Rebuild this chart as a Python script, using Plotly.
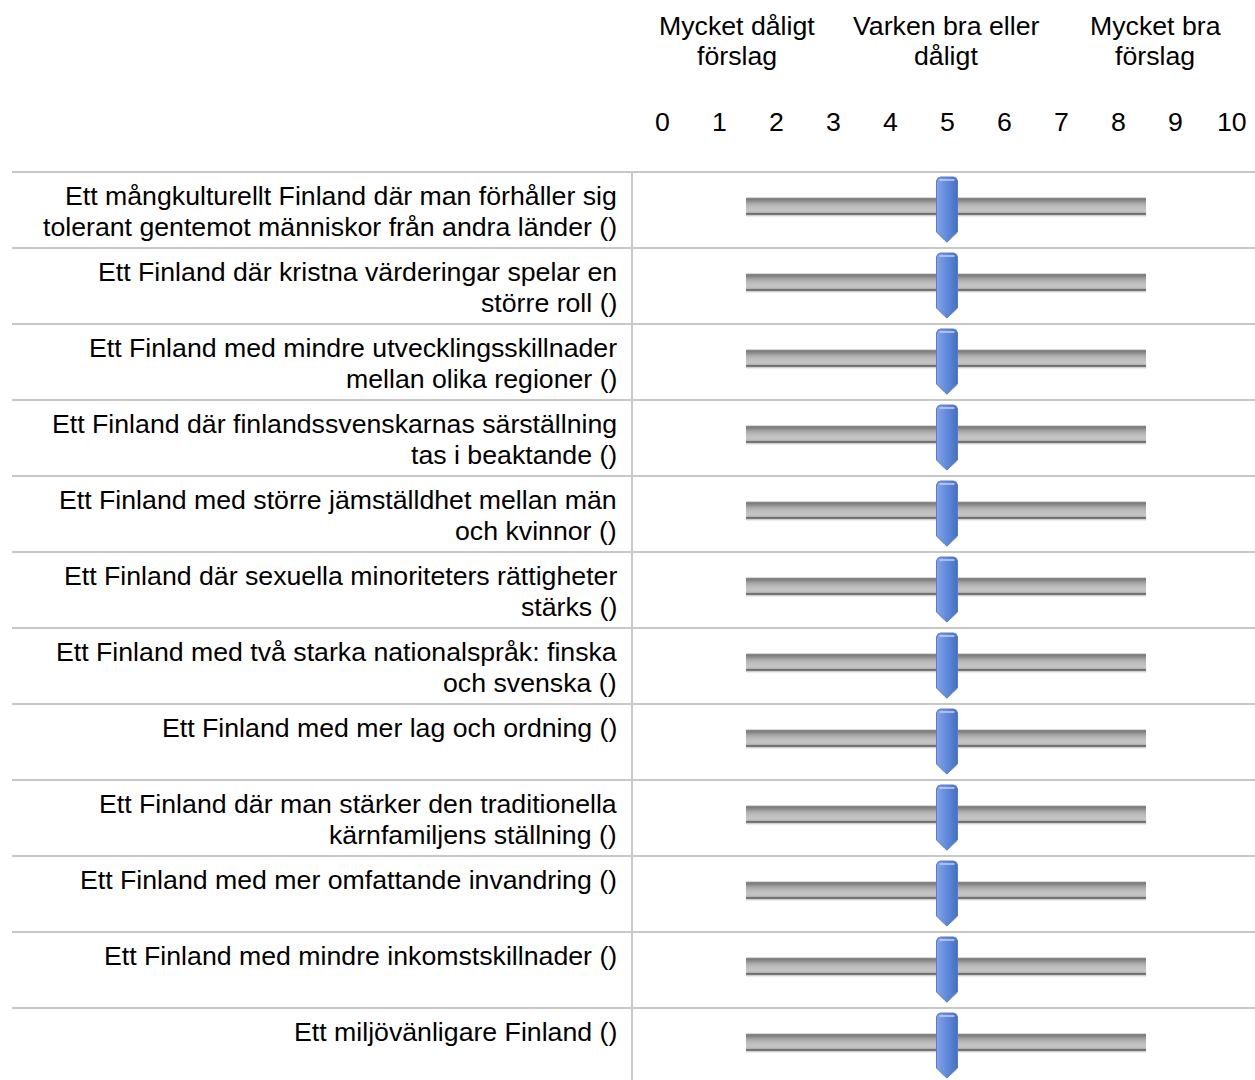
import plotly.graph_objects as go

# ---------------- data ----------------
statements = [
    "Ett mångkulturellt Finland där man förhåller sig|tolerant gentemot människor från andra länder ()",
    "Ett Finland där kristna värderingar spelar en|större roll ()",
    "Ett Finland med mindre utvecklingsskillnader|mellan olika regioner ()",
    "Ett Finland där finlandssvenskarnas särställning|tas i beaktande ()",
    "Ett Finland med större jämställdhet mellan män|och kvinnor ()",
    "Ett Finland där sexuella minoriteters rättigheter|stärks ()",
    "Ett Finland med två starka nationalspråk: finska|och svenska ()",
    "Ett Finland med mer lag och ordning ()",
    "Ett Finland där man stärker den traditionella|kärnfamiljens ställning ()",
    "Ett Finland med mer omfattande invandring ()",
    "Ett Finland med mindre inkomstskillnader ()",
    "Ett miljövänligare Finland ()",
]
slider_values = [5, 5, 5, 5, 5, 5, 5, 5, 5, 5, 5, 5]
tick_values = [0, 1, 2, 3, 4, 5, 6, 7, 8, 9, 10]
tick_labels = ["0", "1", "2", "3", "4", "5", "6", "7", "8", "9", "10"]
anchor_labels = ["Mycket dåligt|förslag", "Varken bra eller|dåligt", "Mycket bra|förslag"]

# ---------------- layout constants (pixels) ----------------
W, H = 1255, 1080
X0_PX = 662.0          # pixel of value 0
UNIT = 57.0            # pixels per scale unit
ROW_TOP = 172
ROW_H = 76
TRACK_L, TRACK_R = 746, 1146
FONT = "Liberation Sans, Arial, sans-serif"
FS = 26.7
SEP = "#c8c8c8"

def px2v(px):
    return (px - X0_PX) / UNIT

fig = go.Figure()
shapes = []
annotations = []

track_colors = ["#d8d8d8", "#868686", "#7e7e7e", "#888888", "#939393", "#9e9e9e",
                "#a8a8a8", "#b0b0b0", "#b6b6b6", "#bababa", "#bebebe", "#c1c1c1",
                "#c3c3c3", "#c3c3c3", "#bfbfbf", "#b4b4b4", "#6e6e6e", "#787878",
                "#cfcfcf", "#ececec"]

for i, (label, val) in enumerate(zip(statements, slider_values)):
    top = ROW_TOP + ROW_H * i
    # row separator
    shapes.append(dict(type="line", xref="paper", yref="y", x0=12 / W, x1=1.0,
                       y0=top, y1=top, line=dict(color=SEP, width=2), layer="below"))
    # label lines
    for k, line in enumerate(label.split("|")):
        annotations.append(dict(xref="paper", yref="y", x=619 / W, y=top + 24 + 31 * k,
                                text=line, showarrow=False, xanchor="right", yanchor="middle",
                                font=dict(family=FONT, size=FS, color="#000000")))
    # track bands
    for j, c in enumerate(track_colors):
        y = top + 25 + j
        shapes.append(dict(type="rect", xref="x", yref="y", x0=px2v(TRACK_L), x1=px2v(TRACK_R),
                           y0=y, y1=y + 1, fillcolor=c, line=dict(width=0), layer="below"))
    # handle polygon built around the value
    cx = val
    hw = 10.5 / UNIT
    r = 4.0 / UNIT
    tw = 2.0 / UNIT
    xs = [cx - hw, cx - hw + r * 0.3, cx - hw + r, cx + hw - r, cx + hw - r * 0.3, cx + hw,
          cx + hw, cx + tw, cx, cx - tw, cx - hw, cx - hw]
    ys = [top + 9, top + 6.2, top + 5, top + 5, top + 6.2, top + 9,
          top + 60, top + 68.5, top + 70, top + 68.5, top + 60, top + 9]
    fig.add_trace(go.Scatter(x=xs, y=ys, mode="lines", fill="toself",
                             line=dict(color="#5a7acc", width=1),
                             fillgradient=dict(type="horizontal",
                                               colorscale=[[0, "#85a3ea"], [0.5, "#6189da"], [1, "#4470c2"]]),
                             hoverinfo="skip", showlegend=False))
    # highlight on top of the handle
    fig.add_trace(go.Scatter(x=[cx - hw + 3 / UNIT, cx + hw - 3 / UNIT], y=[top + 8, top + 8],
                             mode="lines", line=dict(color="rgba(200,215,255,0.7)", width=2),
                             hoverinfo="skip", showlegend=False))

# vertical separator
shapes.append(dict(type="line", xref="paper", yref="y", x0=632 / W, x1=632 / W,
                   y0=ROW_TOP, y1=H, line=dict(color=SEP, width=2), layer="below"))

# tick labels
for v, t in zip(tick_values, tick_labels):
    annotations.append(dict(xref="x", yref="y", x=v, y=122, text=t, showarrow=False,
                            xanchor="center", yanchor="middle",
                            font=dict(family=FONT, size=FS, color="#000000")))

# anchor labels
for i, lab in enumerate(anchor_labels):
    cxp = 737 + 209 * i
    for k, line in enumerate(lab.split("|")):
        annotations.append(dict(xref="paper", yref="y", x=cxp / W, y=26 + 30 * k, text=line,
                                showarrow=False, xanchor="center", yanchor="middle",
                                font=dict(family=FONT, size=FS, color="#000000")))

fig.update_layout(
    width=W, height=H,
    margin=dict(l=0, r=0, t=0, b=0),
    paper_bgcolor="white", plot_bgcolor="white",
    xaxis=dict(range=[px2v(0), px2v(W)], visible=False, fixedrange=True),
    yaxis=dict(range=[H, 0], visible=False, fixedrange=True),
    shapes=shapes, annotations=annotations, showlegend=False,
)

fig.write_html("out.html", config={"displayModeBar": False},
               post_script="document.body.style.margin='0';document.documentElement.style.overflow='hidden';")
